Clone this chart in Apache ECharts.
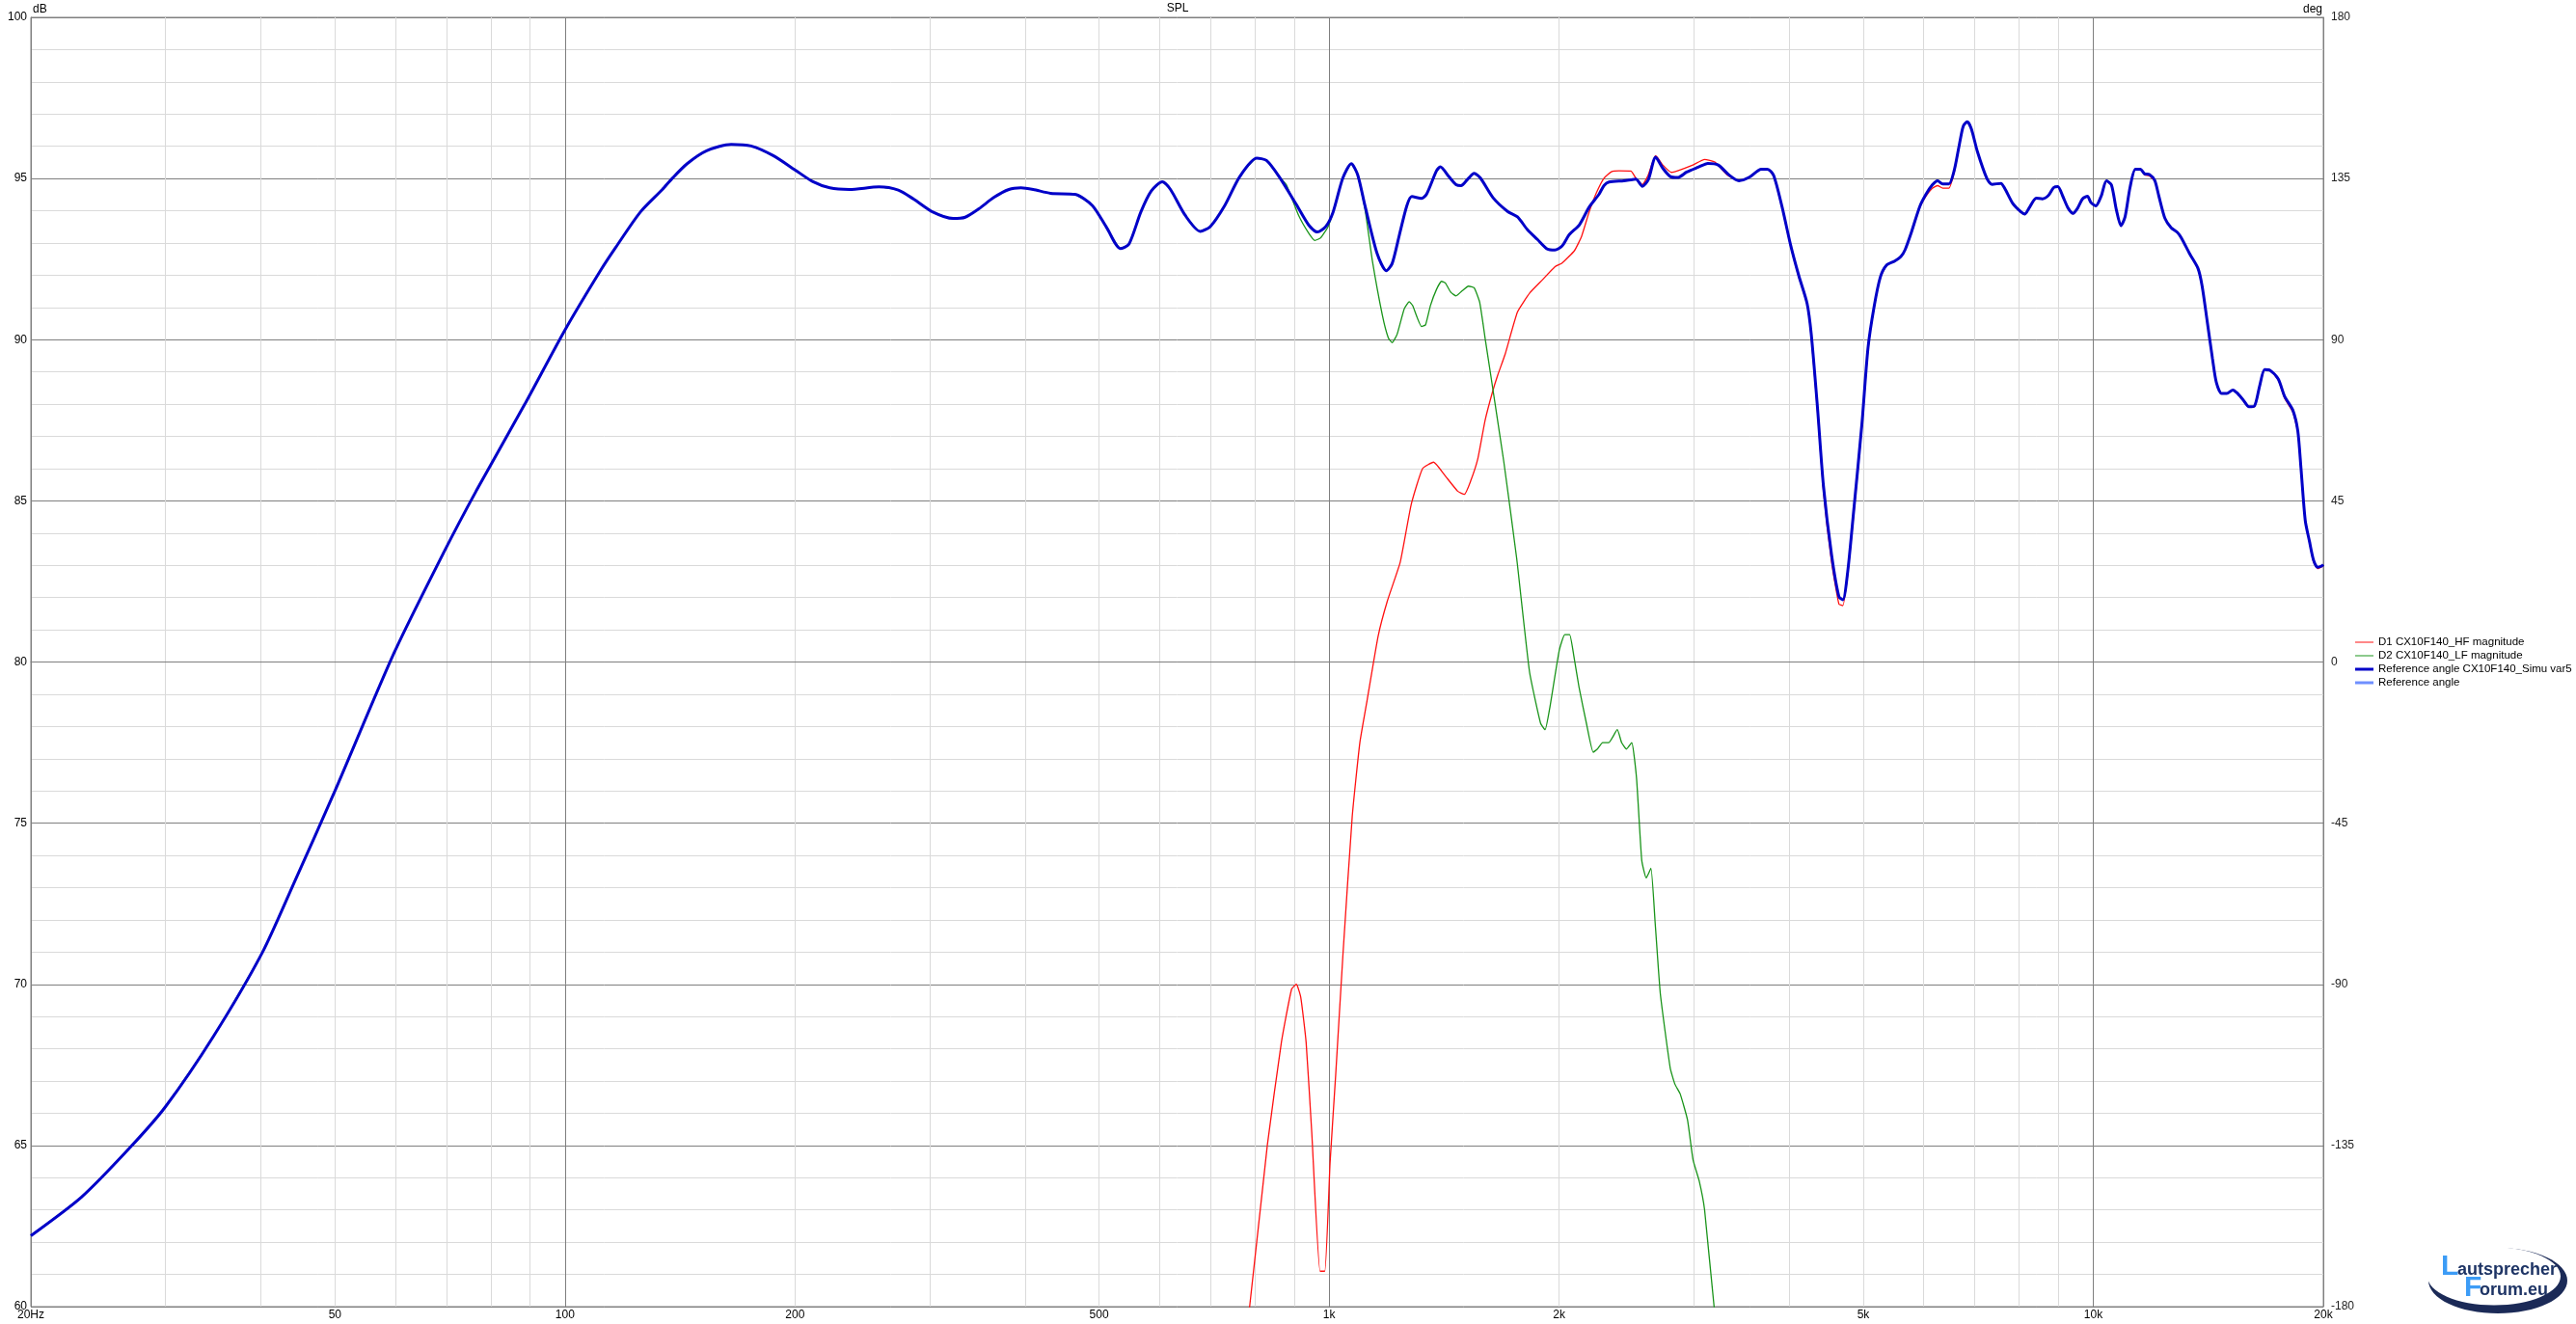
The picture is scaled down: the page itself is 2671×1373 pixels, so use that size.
<!DOCTYPE html>
<html><head><meta charset="utf-8">
<script src="https://cdn.jsdelivr.net/npm/echarts@6/dist/echarts.min.js"></script>
<style>html,body{margin:0;padding:0;background:#fff}#c{width:2671px;height:1373px}</style>
</head><body><div id="c"></div>
<script>
// ---------- data ----------
const blueFreq = [20,23.3,27,30,34.7,40.2,44.3,50,59.8,69.4,76.5,88.6,100,111.4,116.5,125.5,134.1,138.1,144.5,153.2,165,175.2,187.3,200.2,210.8,222.1,235.6,257.6,273,286,303,322,334,348,364,381,395,410,432,465,490,512,533,547,567,585,605,620,648,678,699,730,764,804,828,860,905,940,965,990,1012,1042,1069,1090,1114,1156,1188,1209,1236,1264,1283,1321,1341,1382,1398,1434,1466,1488,1522,1548,1578,1638,1712,1764,1818,1873,1930,1974,2018,2062,2125,2189,2255,2289,2324,2430,2483,2520,2570,2616,2675,2735,2796,2858,2937,3040,3131,3230,3333,3438,3547,3677,3746,3816,3914,4015,4117,4221,4275,4355,4435,4545,4646,4702,4770,4859,4980,5072,5167,5264,5363,5497,5601,5672,5780,5928,6040,6156,6256,6353,6472,6578,6680,6758,6840,6926,7050,7260,7370,7570,7660,7840,8040,8140,8240,8420,8580,8740,8875,8987,9122,9270,9410,9539,9682,9827,9926,10075,10239,10405,10562,10720,10869,11005,11170,11352,11524,11667,11844,12035,12186,12412,12646,12885,13045,13373,13710,13880,14090,14320,14490,14720,14950,15230,15420,15700,15990,16250,16510,16760,17030,17460,17800,18240,18520,18700,18940,19180,19420,19660,19910,20000];
const blueDb = [62.2,63.4,64.95,66.2,68.4,71.0,73.2,76.0,80.3,83.4,85.3,88.0,90.3,92.16,92.86,93.96,94.66,95.0,95.46,95.86,96.06,96.01,95.71,95.26,94.91,94.71,94.66,94.74,94.64,94.36,93.96,93.76,93.8,94.06,94.41,94.66,94.71,94.66,94.54,94.51,94.16,93.46,92.83,92.96,93.96,94.61,94.9,94.66,93.86,93.36,93.51,94.16,95.06,95.63,95.56,95.06,94.21,93.56,93.34,93.51,93.96,95.01,95.46,95.11,94.16,92.66,92.14,92.36,93.26,94.16,94.44,94.38,94.51,95.24,95.36,95.06,94.81,94.78,95.01,95.16,95.01,94.41,93.98,93.81,93.41,93.11,92.81,92.78,92.91,93.26,93.56,94.11,94.51,94.78,94.89,94.93,94.96,94.98,94.76,94.96,95.66,95.31,95.06,95.03,95.2,95.35,95.47,95.42,95.12,94.93,95.04,95.29,95.29,95.1,94.13,92.96,91.99,91.13,90.17,87.92,85.46,83.32,82.03,81.93,82.78,84.71,87.39,89.74,91.03,91.94,92.31,92.44,92.58,92.79,93.33,94.13,94.51,94.8,94.93,94.83,94.83,95.26,96.06,96.62,96.76,96.54,95.85,94.99,94.82,94.85,94.69,94.24,93.97,93.9,94.08,94.39,94.37,94.48,94.72,94.75,94.45,94.08,93.92,94.08,94.37,94.45,94.26,94.15,94.45,94.93,94.8,94.03,93.54,93.81,94.72,95.29,95.29,95.15,95.12,94.94,94.45,93.76,93.47,93.33,93.15,92.66,92.21,91.67,90.6,89.42,88.67,88.33,88.33,88.44,88.35,88.14,87.92,87.94,88.57,89.07,89.05,88.78,88.24,87.82,87.17,86.0,84.39,83.75,83.16,82.94,82.98,83.02];

const redFreq = [760,787,830,866,893,906,918,933,949,973,987,1003,1020,1043,1072,1097,1121,1159,1192,1239,1281,1325,1370,1416,1473,1503,1531,1565,1600,1637,1662,1700,1764,1832,1902,1974,2018,2094,2140,2189,2238,2289,2341,2395,2483,2520,2570,2616,2675,2735,2805,2858,2987,3101,3197,3320,3438,3547,3677,3746,3816,3914,4015,4117,4221,4275,4355,4435,4545,4646,4702,4770,4859,4980,5072,5167,5264,5363,5497,5601,5672,5780,5928,6040,6156,6256,6353,6472,6578,6680,6758,6840,6926,7050,7260,7370,7570,7660,7840,8040,8140,8240,8420,8580,8740,8875,8987,9122,9270,9410,9539,9682,9827,9926,10075,10239,10405,10562,10720,10869,11005,11170,11352,11524,11667,11844,12035,12186,12412,12646,12885,13045,13373,13710,13880,14090,14320,14490,14720,14950,15230,15420,15700,15990,16250,16510,16760,17030,17460,17800,18240,18520,18700,18940,19180,19420,19660,19910,20000];
const redDb = [57.5,60,65,68.2,69.85,70,69.6,68.2,65.4,61.1,61.1,64.5,67.2,71,75.2,77.5,78.8,80.8,81.9,83.1,84.9,86,86.2,85.8,85.3,85.2,85.6,86.3,87.5,88.4,88.9,89.56,90.86,91.46,91.86,92.26,92.38,92.76,93.21,93.96,94.56,95.01,95.21,95.24,95.23,95.01,94.81,95.11,95.71,95.41,95.19,95.24,95.41,95.59,95.51,95.11,94.93,95.04,95.29,95.29,95.08,94.1,92.92,91.95,91.1,90.1,87.8,85.3,83.1,81.8,81.75,82.7,84.6,87.3,89.7,91.0,91.92,92.3,92.44,92.58,92.79,93.3,94.1,94.45,94.7,94.78,94.7,94.7,95.2,96.04,96.62,96.76,96.54,95.85,94.99,94.82,94.85,94.69,94.22,93.95,93.88,94.06,94.38,94.36,94.47,94.71,94.74,94.44,94.06,93.9,94.07,94.36,94.44,94.25,94.14,94.44,94.92,94.8,94.02,93.52,93.8,94.72,95.3,95.3,95.12,95.08,94.92,94.44,93.76,93.47,93.33,93.15,92.66,92.2,91.66,90.6,89.4,88.65,88.32,88.32,88.44,88.35,88.12,87.9,87.92,88.56,89.08,89.06,88.75,88.18,87.76,87.14,86.0,84.38,83.72,83.1,82.9,82.96,83.0];

const greenFreq = [879,912,940,958,975,997,1012,1042,1069,1090,1114,1139,1174,1195,1209,1227,1254,1273,1286,1321,1337,1357,1382,1403,1419,1444,1466,1492,1522,1548,1574,1602,1626,1650,1693,1760,1829,1891,1917,1945,2000,2034,2064,2090,2124,2171,2216,2244,2280,2322,2383,2414,2450,2489,2525,2565,2600,2637,2671,2713,2795,2835,2880,2944,2994,3050,3100,3190,3300];
const greenDb = [94.81,93.86,93.31,93.08,93.16,93.51,93.96,95.01,95.46,95.11,94.06,92.46,90.76,90.06,89.91,90.16,90.96,91.18,91.06,90.41,90.46,91.06,91.56,91.81,91.76,91.46,91.36,91.51,91.66,91.61,91.16,89.96,88.96,87.96,86.2,83.2,79.7,78.1,77.9,78.6,80.35,80.85,80.85,80.2,79.2,78.1,77.2,77.3,77.5,77.5,77.9,77.5,77.3,77.5,76.4,73.85,73.3,73.6,71.9,69.7,67.4,66.9,66.6,65.8,64.55,63.9,63.0,60.0,57.5];
const greenSharedUpTo = 860; // below this the LF driver follows the reference curve

const gridFreqs = [20,30,40,50,60,70,80,90,100,200,300,400,500,600,700,800,900,1000,2000,3000,4000,5000,6000,7000,8000,9000,10000,20000];
const freqLabels = [20,50,100,200,500,1000,2000,5000,10000,20000];
const seriesNames = ['D1 CX10F140_HF magnitude','D2 CX10F140_LF magnitude','Reference angle CX10F140_Simu var5','Reference angle'];

// ---------- build ----------
const pairs = (fs, ds) => fs.map((f, i) => [f, ds[i]]);
const blueData = pairs(blueFreq, blueDb);
const redData = pairs(redFreq, redDb);
const greenData = blueData.filter(p => p[0] <= greenSharedUpTo).concat(pairs(greenFreq, greenDb));

const FONT = '"Liberation Sans", Arial, sans-serif';
const LIGHT = '#dadada', DARK = '#7f7f7f';
const RED = '#ff1010', GREEN = '#1a941a', BLUE = '#0000c8', LBLUE = '#6f8fff';
const THIN = 'path://M0,0H19V1H0Z', THICK = 'path://M0,0H19V3H0Z';

const chart = echarts.init(document.getElementById('c'), null, {renderer: 'canvas'});
chart.setOption({
  animation: false,
  backgroundColor: '#fff',
  textStyle: {fontFamily: FONT},
  grid: {left: 32, right: 262, top: 18, bottom: 18, show: true, borderColor: DARK, borderWidth: 1, containLabel: false},
  xAxis: {
    type: 'log', logBase: 10, min: 20, max: 20000,
    axisLine: {show: true, lineStyle: {color: DARK}},
    axisTick: {show: false, customValues: gridFreqs},
    axisLabel: {
      customValues: freqLabels, margin: 3, fontSize: 12, color: '#000', fontFamily: FONT,
      showMinLabel: true, showMaxLabel: true, hideOverlap: false,
      formatter: v => v === 20 ? '20Hz' : (v >= 1000 ? (v / 1000) + 'k' : String(v))
    },
    splitLine: {show: true, lineStyle: {color: [LIGHT, LIGHT, LIGHT, LIGHT, LIGHT, LIGHT, LIGHT, LIGHT, DARK], width: 1}}
  },
  yAxis: [{
    type: 'value', min: 60, max: 100, interval: 5, position: 'left',
    name: 'dB', nameLocation: 'end', nameGap: 2,
    nameTextStyle: {align: 'left', verticalAlign: 'bottom', fontSize: 12, color: '#000', padding: [0, 0, 0, 2]},
    axisLine: {show: true, lineStyle: {color: DARK}},
    axisTick: {show: false},
    axisLabel: {margin: 4, fontSize: 12, color: '#000', fontFamily: FONT},
    splitLine: {show: true, lineStyle: {color: DARK, width: 1}},
    minorTick: {show: false, splitNumber: 5},
    minorSplitLine: {show: true, lineStyle: {color: LIGHT, width: 1}}
  }, {
    type: 'value', min: -180, max: 180, interval: 45, position: 'right',
    name: 'deg', nameLocation: 'end', nameGap: 2,
    nameTextStyle: {align: 'right', verticalAlign: 'bottom', fontSize: 12, color: '#000', padding: [0, 1, 0, 0]},
    axisLine: {show: true, lineStyle: {color: DARK}},
    axisTick: {show: false},
    axisLabel: {margin: 8, fontSize: 12, color: '#222', fontFamily: FONT},
    splitLine: {show: false}
  }],
  legend: {
    orient: 'vertical', left: 2442, top: 659, padding: 0,
    itemWidth: 19, itemHeight: 14, itemGap: 0, symbolKeepAspect: true,
    textStyle: {fontSize: 11.5, lineHeight: 14, color: '#000', fontFamily: FONT},
    data: [
      {name: seriesNames[0], icon: THIN, itemStyle: {color: RED}},
      {name: seriesNames[1], icon: THIN, itemStyle: {color: GREEN}},
      {name: seriesNames[2], icon: THICK, itemStyle: {color: BLUE}},
      {name: seriesNames[3], icon: THICK, itemStyle: {color: LBLUE}}
    ]
  },
  series: [
    {name: seriesNames[0], type: 'line', data: redData, symbol: 'none', smooth: 0.15, z: 3,
     lineStyle: {color: RED, width: 1.3}, itemStyle: {color: RED}},
    {name: seriesNames[1], type: 'line', data: greenData, symbol: 'none', smooth: 0.15, z: 3,
     lineStyle: {color: GREEN, width: 1.3}, itemStyle: {color: GREEN}},
    {name: seriesNames[3], type: 'line', data: [], symbol: 'none', z: 4,
     lineStyle: {color: LBLUE, width: 3}, itemStyle: {color: LBLUE}},
    {name: seriesNames[2], type: 'line', data: blueData, symbol: 'none', smooth: 0.25, z: 5,
     lineStyle: {color: BLUE, width: 3}, itemStyle: {color: BLUE}}
  ],
  graphic: [
    {type: 'text', x: 1221, y: 9, style: {text: 'SPL', fill: '#000', font: '12px ' + FONT, align: 'center', verticalAlign: 'middle'}},
    {type: 'group', children: [
      {type: 'ellipse', shape: {cx: 2590, cy: 1328, rx: 72, ry: 34}, style: {fill: '#1b2a57'}},
      {type: 'ellipse', shape: {cx: 2586, cy: 1323.5, rx: 69, ry: 30}, style: {fill: '#fff'}},
      {type: 'text', x: 2531, y: 1314, style: {text: 'L', fill: '#3c9cf6', font: 'bold 30px ' + FONT, verticalAlign: 'middle'}},
      {type: 'text', x: 2548, y: 1317, style: {text: 'autsprecher', fill: '#1e3465', font: 'bold 18px ' + FONT, verticalAlign: 'middle'}},
      {type: 'text', x: 2555, y: 1336, style: {text: 'F', fill: '#3c9cf6', font: 'bold 30px ' + FONT, verticalAlign: 'middle'}},
      {type: 'text', x: 2571, y: 1338, style: {text: 'orum.eu', fill: '#1e3465', font: 'bold 18px ' + FONT, verticalAlign: 'middle'}}
    ]}
  ]
});
</script>
</body></html>
